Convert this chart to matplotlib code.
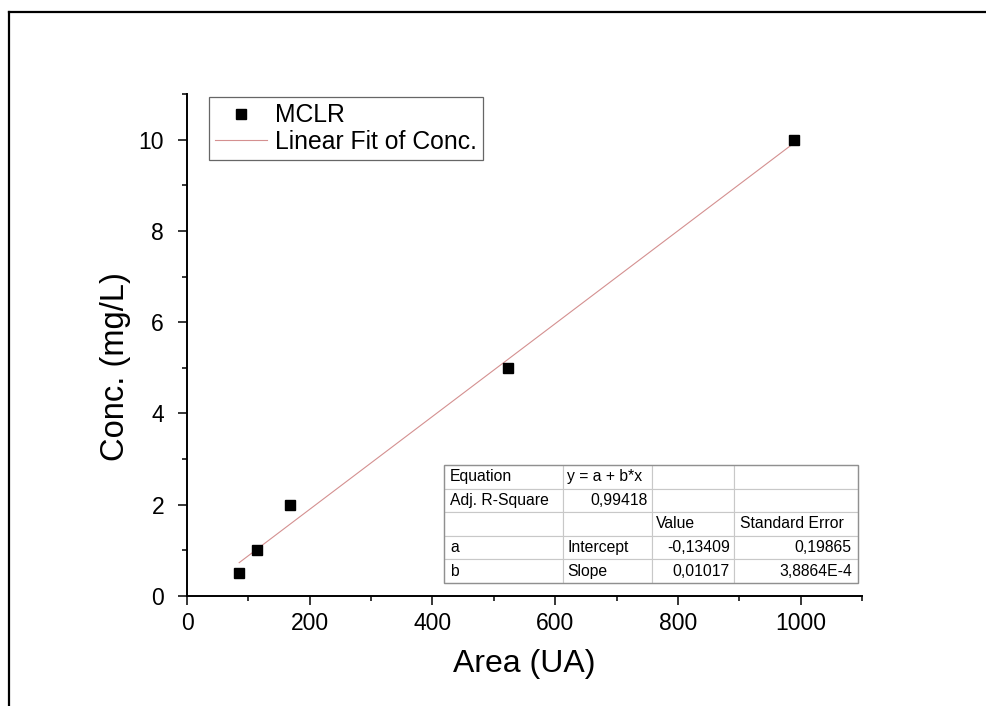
#!/usr/bin/env python3
# -*- coding: utf-8 -*-

import matplotlib
matplotlib.use('Agg')
import matplotlib.pyplot as plt
from matplotlib.lines import Line2D
from matplotlib.ticker import MultipleLocator
import numpy as np

# calibration points (MCLR)
area = [85, 114, 168, 523, 989]
conc = [0.5, 1, 2, 5, 10]

# linear fit parameters reported by the fit
intercept = -0.13409
slope = 0.01017

# fit result table
table_rows = [
    ['Equation', 'y = a + b*x', '', ''],
    ['Adj. R-Square', '0,99418', '', ''],
    ['', '', 'Value', 'Standard Error'],
    ['a', 'Intercept', '-0,13409', '0,19865'],
    ['b', 'Slope', '0,01017', '3,8864E-4'],
]
table_align = [
    ['left', 'left', 'left', 'left'],
    ['left', 'right', 'left', 'left'],
    ['left', 'left', 'left', 'left'],
    ['left', 'left', 'right', 'right'],
    ['left', 'left', 'right', 'right'],
]
col_widths = [119, 89, 82, 124]

plt.rcParams['font.family'] = ['Liberation Sans', 'DejaVu Sans']

W, H = 986, 706


def createGraph():
    fig = plt.figure(figsize=(W / 100, H / 100), dpi=100)

    # outer frame (cropped on the right and bottom)
    fig.add_artist(Line2D([9 / W, 1], [1 - 12 / H, 1 - 12 / H], color='black', lw=1.6, transform=fig.transFigure))
    fig.add_artist(Line2D([9 / W, 9 / W], [0, 1 - 12 / H], color='black', lw=1.6, transform=fig.transFigure))

    ax = fig.add_axes([187 / W, (H - 596) / H, 675 / W, 502 / H])

    ax.plot(area, conc, 's', color='black', markersize=7.2, label='MCLR', zorder=3)
    xfit = np.array([min(area), max(area)])
    ax.plot(xfit, intercept + slope * xfit, '-', color='#d49090', lw=0.8, label='Linear Fit of Conc.', zorder=2)

    ax.set_xlim(0, 1100)
    ax.set_ylim(0, 11)
    ax.xaxis.set_major_locator(MultipleLocator(200))
    ax.xaxis.set_minor_locator(MultipleLocator(100))
    ax.yaxis.set_major_locator(MultipleLocator(2))
    ax.yaxis.set_minor_locator(MultipleLocator(1))

    for s in ['top', 'right']:
        ax.spines[s].set_visible(False)
    for s in ['left', 'bottom']:
        ax.spines[s].set_linewidth(1.4)

    ax.tick_params(which='major', direction='out', length=6.5, width=1.1, labelsize=16.5)
    ax.tick_params(which='minor', direction='out', length=3.6, width=1.1)
    ax.tick_params(axis='x', which='major', pad=5)
    ax.tick_params(axis='y', which='major', pad=10)

    ax.set_xlabel('Area (UA)', fontsize=23, labelpad=10)
    ax.set_ylabel('Conc. (mg/L)', fontsize=23.5)
    ax.yaxis.set_label_coords(-0.083, 0.458)

    leg = ax.legend(loc='upper left', bbox_to_anchor=(0.0326, 0.994), fontsize=17.8,
                    frameon=True, fancybox=False, handlelength=2.1, handletextpad=0.3,
                    borderpad=0.25, labelspacing=0.1, borderaxespad=0)
    leg.get_frame().set_edgecolor('#404040')
    leg.get_frame().set_linewidth(0.9)

    # fit table
    x0 = (444 - 187) / 675
    x1 = (858 - 187) / 675
    y0 = (596 - 583) / 502
    y1 = (596 - 465) / 502
    tot = sum(col_widths)
    tab = ax.table(cellText=table_rows, colWidths=[c / tot * (x1 - x0) for c in col_widths],
                   bbox=[x0, y0, x1 - x0, y1 - y0], zorder=4)
    tab.auto_set_font_size(False)
    for (r, c), cell in tab.get_celld().items():
        cell.set_fontsize(11.3)
        cell.set_edgecolor('#c8c8c8')
        cell.set_linewidth(0.8)
        cell.set_facecolor('white')
        cell.get_text().set_horizontalalignment(table_align[r][c])
        cell.PAD = 0.05
    # darker border around the table
    ax.add_patch(plt.Rectangle((x0, y0), x1 - x0, y1 - y0, transform=ax.transAxes,
                               fill=False, edgecolor='#909090', lw=1.0, zorder=5))

    fig.savefig('out.png', dpi=100)


def main():
    createGraph()


if __name__ == "__main__":
    main()
